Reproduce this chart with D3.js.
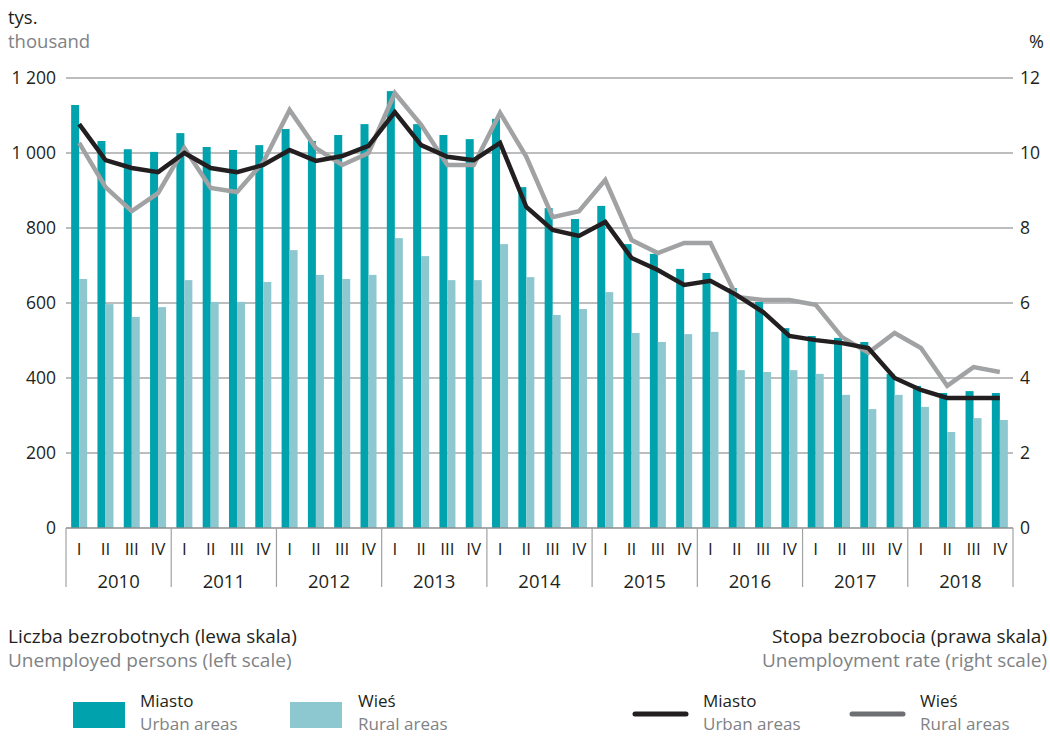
<!DOCTYPE html>
<html><head><meta charset="utf-8">
<script src="https://cdn.jsdelivr.net/npm/d3@7/dist/d3.min.js"></script>
<style>
body{margin:0;background:#fff;}
text{font-family:"Open Sans","Noto Sans",sans-serif;}
</style></head>
<body><svg id="c" width="1050" height="736"></svg>
<script>
const years = ["2010","2011","2012","2013","2014","2015","2016","2017","2018"];
const quarters = ["I","II","III","IV"];
const leftTicks = [0,200,400,600,800,1000,1200];
const leftTickLabels = ["0","200","400","600","800","1 000","1 200"];
const rightTicks = [0,2,4,6,8,10,12];
const urbanPersons = [1128,1032,1010,1003, 1053,1016,1008,1021, 1064,1032,1048,1077, 1165,1077,1048,1037, 1091,909,853,824, 859,757,731,691, 680,640,603,533, 512,507,496,411, 379,360,365,360];
const ruralPersons = [664,597,563,589, 661,603,603,656, 741,675,664,675, 773,725,661,661, 757,669,568,584, 629,520,496,517, 523,421,416,421, 411,355,317,355, 323,256,293,288];
const urbanRate = [10.77,9.81,9.6,9.49, 10.0,9.6,9.49,9.68, 10.08,9.79,9.92,10.19, 11.09,10.21,9.9,9.81, 10.27,8.56,7.95,7.79, 8.16,7.2,6.88,6.48, 6.59,6.21,5.76,5.12, 5.01,4.93,4.8,4.0, 3.68,3.47,3.47,3.47];
const ruralRate = [10.27,9.09,8.45,8.93, 10.13,9.07,8.96,9.76, 11.15,10.13,9.68,10.0, 11.6,10.75,9.68,9.68, 11.07,9.9,8.29,8.45, 9.28,7.68,7.33,7.6, 7.6,6.16,6.08,6.08, 5.95,5.09,4.67,5.2, 4.8,3.79,4.29,4.16];

const C = {urban:"#00a3ad", rural:"#8dc7cf", lineU:"#231f20", lineR:"#a0a2a3", lineRLeg:"#6e6f72", grid:"#a5a7aa", text:"#231f20", sub:"#808285"};
const svg = d3.select("#c");
const L = 66, R = 1013, T = 78, B = 528;
const keys = [];
years.forEach(y => quarters.forEach(q => keys.push(y+"-"+q)));
const x = d3.scaleBand().domain(keys).range([L,R]);
const yL = d3.scaleLinear().domain([0,1200]).range([B,T]);
const yR = d3.scaleLinear().domain([0,12]).range([B,T]);
const bw = 8;

// grid
svg.append("g").selectAll("line").data(leftTicks.filter(d=>d>0)).join("line")
  .attr("x1",L).attr("x2",R).attr("y1",d=>yL(d)).attr("y2",d=>yL(d))
  .attr("stroke",C.grid).attr("stroke-width",1.5);

// bars
const cx = k => x(k) + x.bandwidth()/2;
svg.append("g").selectAll("rect").data(urbanPersons).join("rect")
  .attr("x",(d,i)=>cx(keys[i])-bw).attr("width",bw)
  .attr("y",d=>yL(d)).attr("height",d=>B-yL(d)).attr("fill",C.urban);
svg.append("g").selectAll("rect").data(ruralPersons).join("rect")
  .attr("x",(d,i)=>cx(keys[i])).attr("width",bw)
  .attr("y",d=>yL(d)).attr("height",d=>B-yL(d)).attr("fill",C.rural);

// lines
const line = d3.line().x((d,i)=>cx(keys[i])).y(d=>yR(d));
svg.append("path").datum(ruralRate).attr("d",line).attr("fill","none")
  .attr("stroke",C.lineR).attr("stroke-width",4.5).attr("stroke-linejoin","miter");
svg.append("path").datum(urbanRate).attr("d",line).attr("fill","none")
  .attr("stroke",C.lineU).attr("stroke-width",4.5).attr("stroke-linejoin","miter");

// bottom axis
svg.append("line").attr("x1",L).attr("x2",R).attr("y1",B).attr("y2",B).attr("stroke","#8a8c8e").attr("stroke-width",1.5);
const yearScale = d3.scaleBand().domain(years).range([L,R]);
svg.append("g").selectAll("line").data(years.concat(["end"])).join("line")
  .attr("x1",(d,i)=>L+i*yearScale.bandwidth()).attr("x2",(d,i)=>L+i*yearScale.bandwidth())
  .attr("y1",B).attr("y2",587).attr("stroke","#a0a2a4").attr("stroke-width",1.2);
svg.append("g").selectAll("text").data(keys).join("text")
  .attr("x",k=>cx(k)).attr("y",555).attr("text-anchor","middle")
  .attr("font-size",17).attr("fill",C.text).text(k=>k.split("-")[1]);
svg.append("g").selectAll("text").data(years).join("text")
  .attr("x",d=>yearScale(d)+yearScale.bandwidth()/2).attr("y",588).attr("text-anchor","middle")
  .attr("font-size",18.5).attr("fill",C.text).text(d=>d);

// left axis labels
svg.append("g").selectAll("text").data(leftTicks).join("text")
  .attr("x",56).attr("y",d=>yL(d)+6).attr("text-anchor","end")
  .attr("font-size",17.5).attr("fill",C.text).text((d,i)=>leftTickLabels[i]);
// right axis labels
svg.append("g").selectAll("text").data(rightTicks).join("text")
  .attr("x",1020).attr("y",d=>yR(d)+6).attr("text-anchor","start")
  .attr("font-size",17.5).attr("fill",C.text).text(d=>d);

svg.append("text").attr("x",8).attr("y",24).attr("font-size",18.5).attr("fill",C.text).text("tys.");
svg.append("text").attr("x",8).attr("y",48).attr("font-size",18.5).attr("fill",C.sub).text("thousand");
svg.append("text").attr("x",1044).attr("y",48).attr("text-anchor","end").attr("font-size",18).attr("fill",C.text).text("%");

// legend titles
const tf = 19;
svg.append("text").attr("x",8).attr("y",643).attr("font-size",tf).attr("fill",C.text).text("Liczba bezrobotnych (lewa skala)");
svg.append("text").attr("x",8).attr("y",667).attr("font-size",tf).attr("fill",C.sub).text("Unemployed persons (left scale)");
svg.append("text").attr("x",1047).attr("y",643).attr("text-anchor","end").attr("font-size",tf).attr("fill",C.text).text("Stopa bezrobocia (prawa skala)");
svg.append("text").attr("x",1047).attr("y",667).attr("text-anchor","end").attr("font-size",tf).attr("fill",C.sub).text("Unemployment rate (right scale)");

const leg = [
  {type:"rect",color:C.urban,x:73,tx:140,pl:"Miasto",en:"Urban areas"},
  {type:"rect",color:C.rural,x:290,tx:358,pl:"Wieś",en:"Rural areas"},
  {type:"line",color:C.lineU,x:633,tx:703,pl:"Miasto",en:"Urban areas"},
  {type:"line",color:C.lineRLeg,x:850,tx:920,pl:"Wieś",en:"Rural areas"}
];
leg.forEach(d=>{
  if(d.type==="rect") svg.append("rect").attr("x",d.x).attr("y",702).attr("width",52).attr("height",26).attr("fill",d.color);
  else svg.append("line").attr("x1",d.x+2).attr("x2",d.x+53).attr("y1",714).attr("y2",714).attr("stroke",d.color).attr("stroke-width",5).attr("stroke-linecap","round");
  svg.append("text").attr("x",d.tx).attr("y",707).attr("font-size",17).attr("fill",C.text).text(d.pl);
  svg.append("text").attr("x",d.tx).attr("y",730).attr("font-size",17).attr("fill",C.sub).text(d.en);
});
</script></body></html>
